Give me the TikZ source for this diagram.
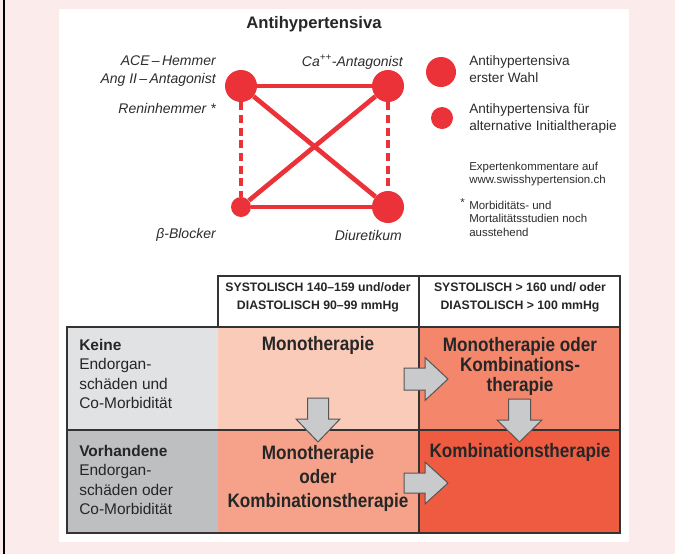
\documentclass[tikz,border=0pt]{standalone}
\usepackage{fontspec}
\setmainfont{Liberation Sans}
\newfontfamily\condfont[FakeStretch=0.88]{Liberation Sans}
\definecolor{antired}{RGB}{235,50,56}
\definecolor{pagepink}{RGB}{252,235,235}
\definecolor{inkgray}{RGB}{45,45,45}
\definecolor{arrowgray}{RGB}{200,202,204}
\definecolor{arrowedge}{RGB}{85,85,85}
\definecolor{grayA}{RGB}{225,226,227}
\definecolor{grayB}{RGB}{190,191,193}
\definecolor{salmonA}{RGB}{250,203,185}
\definecolor{salmonB}{RGB}{246,162,138}
\definecolor{salmonC}{RGB}{243,134,107}
\definecolor{salmonD}{RGB}{239,91,65}

\begin{document}
\begin{tikzpicture}[x=0.75pt,y=0.75pt,yscale=-1,xscale=1,
  firstdot/.style={circle,fill=antired,inner sep=0pt,minimum size=24pt},
  altdot/.style={firstdot,minimum size=15pt},
  link/.style={draw=antired,line width=3.5pt},
  altlink/.style={draw=antired,line width=3.1pt,dash pattern=on 6pt off 3.5pt},
  druglabel/.style={inner sep=0.75pt,text=inkgray,font=\fontsize{10.5}{13.5}\selectfont\itshape},
  legendtext/.style={inner sep=0.75pt,text=inkgray,align=left,font=\fontsize{10.2}{12.8}\selectfont},
  notetext/.style={inner sep=0.75pt,text=inkgray,align=left,font=\fontsize{8.6}{10.1}\selectfont},
  headtext/.style={inner sep=0.75pt,text=black!85,align=center,font=\fontsize{9.2}{13.5}\selectfont\bfseries},
  rowtext/.style={inner sep=0.75pt,text=black!85,align=left,font=\fontsize{11.6}{14.5}\selectfont},
  therapy/.style={inner sep=0.75pt,text=black!85,align=center,font=\condfont\bfseries\fontsize{14.6}{18}\selectfont},
  cellline/.style={draw=black!80,line width=0.8pt},
  blockarrow/.style={fill=arrowgray,draw=arrowedge,line width=0.75pt,line join=miter}
]
\useasboundingbox (0,0) rectangle (675,554);

%Background
\fill [pagepink] (0,0) rectangle (675,554);
\draw [black,line width=1.1pt] (4,0) -- (4,554);
\fill [white] (59,9) rectangle (629,542);

% Text Node
\node (title) at (314,24) [inner sep=0.75pt,text=black!85,font=\fontsize{12.5}{15}\selectfont\bfseries] {Antihypertensiva};

%Drug circles
\node (ace) at (241,86) [firstdot] {};
\node (ca) at (388,86) [firstdot] {};
\node (beta) at (241,207) [altdot] {};
\node (diur) at (388,207) [firstdot] {};

%Combinations
\draw [link] (ace) -- (ca);
\draw [link] (beta) -- (diur);
\draw [link] (ace) -- (diur);
\draw [link] (ca) -- (beta);
\draw [altlink] (ace) -- (beta);
\draw [altlink] (ca) -- (diur);

% Text Node
\node (acelabel) at (217,71) [druglabel,anchor=east,align=right] {ACE\,–\,Hemmer\\Ang II\,–\,Antagonist};
% Text Node
\node (reninlabel) at (217,108) [druglabel,anchor=east] {Reninhemmer *};
% Text Node
\node (calabel) at (404,62) [druglabel,anchor=east] {Ca\textsuperscript{++}-Antagonist};
% Text Node
\node (betalabel) at (217,235) [druglabel,anchor=east] {β-Blocker};
% Text Node
\node (diurlabel) at (403,235) [druglabel,anchor=east] {Diuretikum};

%Legend
\node (keyfirst) at (441,72) [firstdot,minimum size=22.5pt] {};
\node (keyalt) at (442,118) [altdot,minimum size=16.5pt] {};
% Text Node
\node (firsttext) at (468,69) [legendtext,anchor=west] {Antihypertensiva\\erster Wahl};
% Text Node
\node (alttext) at (468,118.5) [legendtext,anchor=west] {Antihypertensiva für\\alternative Initialtherapie};
% Text Node
\node (webtext) at (468,174) [notetext,anchor=west] {Expertenkommentare auf\\www.swisshypertension.ch};
% Text Node
\node (notetext) at (468,218.5) [notetext,anchor=west] {Morbiditäts- und\\Mortalitätsstudien noch\\ausstehend};
% Text Node
\node (notestar) at (466,203) [notetext,anchor=east] {*};

%Table cells
\fill [grayA] (67,327) rectangle (218,430);
\fill [grayB] (67,430) rectangle (218,533);
\fill [salmonA] (218,327) rectangle (419,430);
\fill [salmonB] (218,430) rectangle (419,533);
\fill [salmonC] (419,327) rectangle (620,430);
\fill [salmonD] (419,430) rectangle (620,533);
%Table lines
\draw [cellline] (218,276) rectangle (620,327);
\draw [cellline] (67,327) rectangle (620,533);
\draw [cellline] (67,430) -- (620,430);
\draw [cellline] (419,276) -- (419,533);

% Text Node
\node (headmild) at (318,297) [headtext] {SYSTOLISCH 140–159 und/oder\\DIASTOLISCH 90–99 mmHg};
% Text Node
\node (headsevere) at (520,297) [headtext] {SYSTOLISCH > 160 und/ oder\\DIASTOLISCH > 100 mmHg};
% Text Node
\node (rownone) at (78,338) [rowtext,anchor=north west] {\textbf{Keine}\\Endorgan-\\schäden und\\Co-Morbidität};
% Text Node
\node (rowpresent) at (78,444) [rowtext,anchor=north west] {\textbf{Vorhandene}\\Endorgan-\\schäden oder\\Co-Morbidität};
% Text Node
\node (monoA) at (318,345) [therapy] {Monotherapie};
% Text Node
\node (monoB) at (318,478) [therapy] {Monotherapie\\oder\\Kombinationstherapie};
% Text Node
\node (comboA) at (520,366) [therapy,font=\condfont\bfseries\fontsize{14.6}{15}\selectfont] {Monotherapie oder\\Kombinations-\\therapie};
% Text Node
\node (comboB) at (520,452) [therapy] {Kombinationstherapie};

%Shape: Arrows
\draw [blockarrow] (307.5,398) -- (328.5,398) -- (328.5,419) -- (340,419) -- (318,442) -- (296,419) -- (307.5,419) -- cycle ;
\draw [blockarrow] (508.5,399) -- (530.5,399) -- (530.5,420) -- (542,420) -- (519.5,442) -- (497,420) -- (508.5,420) -- cycle ;
\draw [blockarrow] (404,368) -- (425,368) -- (425,357.5) -- (448,379) -- (425,400.5) -- (425,390) -- (404,390) -- cycle ;
\draw [blockarrow] (404,473) -- (425,473) -- (425,462) -- (448,483) -- (425,504) -- (425,493) -- (404,493) -- cycle ;

\end{tikzpicture}
\end{document}
